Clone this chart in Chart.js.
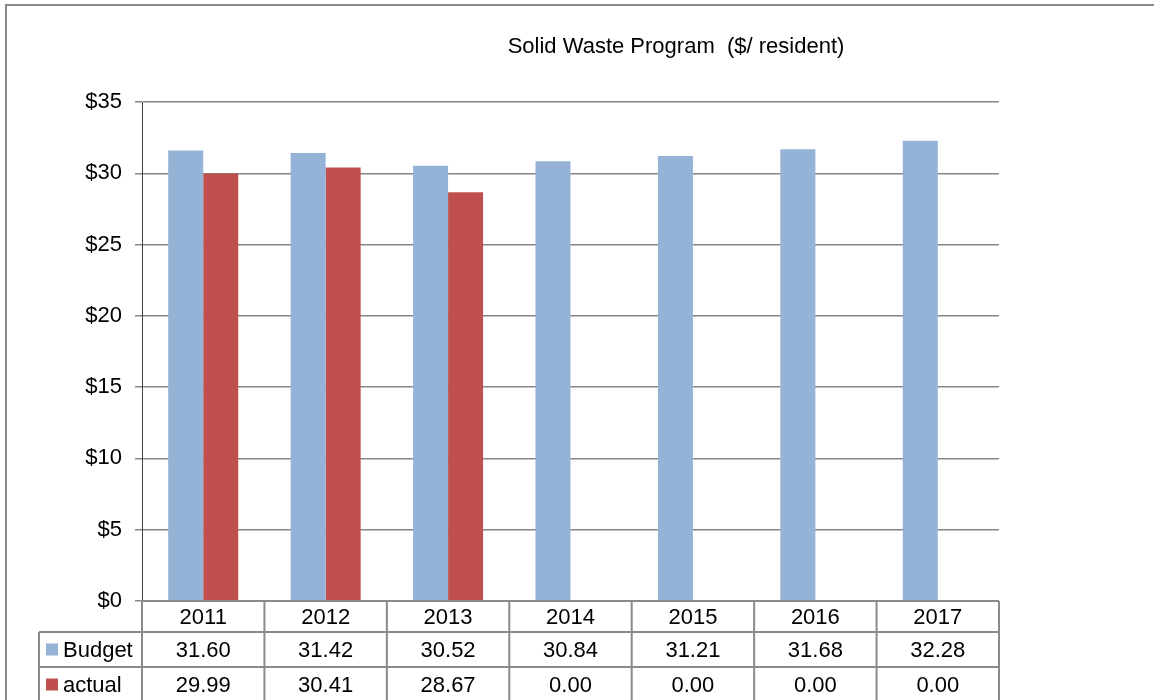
<!DOCTYPE html>
<html>
<head>
<meta charset="utf-8">
<title>Solid Waste Program</title>
<script src="https://cdn.jsdelivr.net/npm/chart.js@4"></script>
<style>
  html, body { margin: 0; padding: 0; background: #ffffff; }
  #wrap { width: 1154px; height: 700px; position: relative; }
</style>
</head>
<body>
<div id="wrap"><canvas id="wasteChart" width="1154" height="700"></canvas></div>
<script>
const years = ['2011', '2012', '2013', '2014', '2015', '2016', '2017'];
const budget = [31.60, 31.42, 30.52, 30.84, 31.21, 31.68, 32.28];
const actual = [29.99, 30.41, 28.67, 0.00, 0.00, 0.00, 0.00];
const yTicks = [0, 5, 10, 15, 20, 25, 30, 35];
const chartTitle = 'Solid Waste Program  ($/ resident)';

const FONT = '"Liberation Sans", Arial, sans-serif';
const BLUE = '#95b3d7';
const RED = '#c0504d';
const LINE = '#8a8a8a';

// frame, title and the data table under the plot
const tablePlugin = {
    id: 'dataTable',
    beforeDraw(chart) {
        const c = chart.ctx;
        c.save();
        c.strokeStyle = LINE;
        c.lineWidth = 2;
        c.beginPath();
        c.moveTo(6, 700);
        c.lineTo(6, 5);
        c.lineTo(1154, 5);
        c.stroke();
        c.restore();
    },
    afterDraw(chart) {
        const c = chart.ctx;
        const area = chart.chartArea;
        const colW = (area.right - area.left) / years.length;
        const rowTops = [area.bottom, area.bottom + 31, area.bottom + 66];
        const rowH = [31, 35, 35];
        const labelLeft = 39;

        c.save();
        // title
        c.fillStyle = '#000';
        c.font = '22px ' + FONT;
        c.textAlign = 'center';
        c.textBaseline = 'middle';
        c.fillText(chartTitle, 676, 47);

        // grid of the table
        c.strokeStyle = LINE;
        c.lineWidth = 2;
        c.beginPath();
        c.moveTo(area.left, rowTops[0]);
        c.lineTo(area.right, rowTops[0]);
        for (let r = 1; r < 3; r++) {
            c.moveTo(labelLeft, rowTops[r]);
            c.lineTo(area.right, rowTops[r]);
        }
        c.moveTo(labelLeft, rowTops[1]);
        c.lineTo(labelLeft, 700);
        for (let i = 0; i <= years.length; i++) {
            const x = area.left + i * colW;
            c.moveTo(x, rowTops[0]);
            c.lineTo(x, 700);
        }
        c.stroke();

        // cells
        c.fillStyle = '#000';
        c.font = '22px ' + FONT;
        c.textAlign = 'center';
        years.forEach((y, i) => {
            const cx = area.left + (i + 0.5) * colW;
            c.fillText(y, cx, rowTops[0] + rowH[0] / 2 + 1);
            c.fillText(budget[i].toFixed(2), cx, rowTops[1] + rowH[1] / 2 + 1);
            c.fillText(actual[i].toFixed(2), cx, rowTops[2] + rowH[2] / 2 + 1);
        });

        // series keys
        const keys = [['Budget', BLUE], ['actual', RED]];
        keys.forEach((k, j) => {
            const cy = rowTops[j + 1] + rowH[j + 1] / 2;
            c.fillStyle = k[1];
            c.fillRect(46, cy - 6, 12, 12);
            c.fillStyle = '#000';
            c.textAlign = 'left';
            c.fillText(k[0], 63, cy + 1);
        });
        c.restore();
    }
};

new Chart(document.getElementById('wasteChart'), {
    type: 'bar',
    data: {
        labels: years,
        datasets: [
            { label: 'Budget', data: budget, backgroundColor: BLUE },
            { label: 'actual', data: actual, backgroundColor: RED }
        ]
    },
    options: {
        responsive: false,
        animation: false,
        layout: { padding: { left: 0, top: 102, right: 155, bottom: 99 } },
        datasets: {
            bar: { categoryPercentage: 0.572, barPercentage: 1.0 }
        },
        plugins: {
            legend: { display: false },
            title: { display: false },
            tooltip: { enabled: false }
        },
        scales: {
            x: { display: false },
            y: {
                min: 0,
                max: 35,
                afterFit(scale) { scale.width = 142; },
                afterBuildTicks(scale) { scale.ticks = yTicks.map(v => ({ value: v })); },
                ticks: {
                    color: '#000',
                    padding: 13,
                    font: { size: 22, family: FONT },
                    callback: v => '$' + v
                },
                grid: { color: '#868686', lineWidth: 1.5, tickLength: 7 },
                border: { color: '#404040', width: 1 }
            }
        }
    },
    plugins: [tablePlugin]
});
</script>
</body>
</html>
